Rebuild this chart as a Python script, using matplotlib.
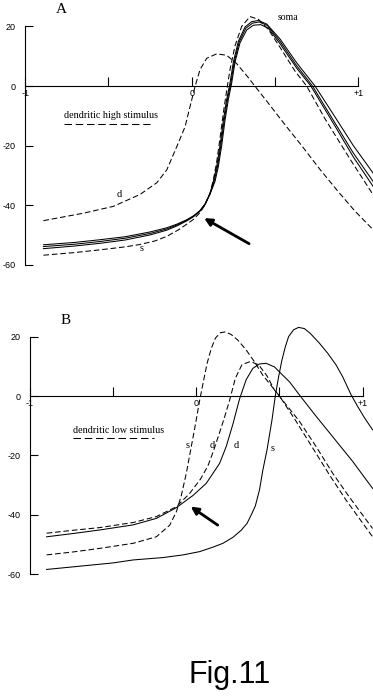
import matplotlib
matplotlib.use("Agg")
import matplotlib.pyplot as plt

# ---- panel A (dendritic high stimulus) ----
a_soma1_x = [-0.89, -0.70, -0.55, -0.40, -0.25, -0.15, -0.09, -0.03, 0.01, 0.05, 0.08, 0.11, 0.13, 0.15, 0.17,
             0.19, 0.21, 0.23, 0.25, 0.28, 0.32, 0.36, 0.40, 0.45, 0.53, 0.63, 0.74, 0.85, 0.97, 1.09]
a_soma1_v = [-53.3, -52.5, -51.6, -50.6, -49.0, -47.6, -46.4, -44.9, -43.6, -41.8, -39.6, -36.0, -32.0, -27.0, -20.0,
             -11.5, -4.5, 1.0, 8.0, 15.0, 19.8, 21.6, 22.0, 20.8, 15.8, 7.8, 0.0, -9.5, -20.0, -29.3]
a_soma2_x = [-0.89, -0.70, -0.55, -0.40, -0.25, -0.15, -0.09, -0.03, 0.01, 0.05, 0.08, 0.11, 0.135, 0.155, 0.175,
             0.195, 0.215, 0.235, 0.255, 0.285, 0.325, 0.365, 0.405, 0.455, 0.53, 0.63, 0.725, 0.85, 0.97, 1.09]
a_soma2_v = [-53.9, -53.1, -52.2, -51.1, -49.5, -48.0, -46.7, -45.1, -43.8, -41.9, -39.7, -36.2, -32.0, -27.0, -20.0,
             -11.5, -4.5, 1.0, 8.0, 14.8, 19.4, 21.1, 21.5, 20.3, 15.0, 6.8, 0.0, -11.5, -22.5, -32.1]
a_soma3_x = [-0.89, -0.70, -0.55, -0.40, -0.25, -0.15, -0.09, -0.03, 0.01, 0.05, 0.08, 0.11, 0.14, 0.16, 0.18,
             0.20, 0.22, 0.24, 0.26, 0.29, 0.33, 0.37, 0.415, 0.46, 0.53, 0.63, 0.715, 0.85, 0.97, 1.09]
a_soma3_v = [-54.6, -53.7, -52.8, -51.7, -50.0, -48.4, -47.0, -45.3, -43.9, -42.0, -39.8, -36.3, -32.0, -27.0, -20.0,
             -11.5, -4.5, 1.0, 8.0, 14.5, 18.8, 20.4, 20.6, 19.4, 14.2, 6.0, 0.0, -12.5, -23.8, -33.8]
a_s_x = [-0.89, -0.70, -0.55, -0.40, -0.31, -0.22, -0.15, -0.08, -0.03, 0.01, 0.05, 0.08, 0.11, 0.13, 0.15,
         0.17, 0.19, 0.21, 0.23, 0.26, 0.30, 0.35, 0.40, 0.46, 0.53, 0.62, 0.69, 0.80, 0.95, 1.09]
a_s_v = [-56.8, -55.9, -55.0, -54.0, -53.2, -52.0, -50.5, -48.3, -46.4, -44.8, -42.5, -39.9, -36.0, -31.5, -25.5,
         -17.5, -9.0, -1.5, 5.5, 13.5, 20.0, 23.3, 22.4, 19.0, 13.0, 5.0, 0.0, -11.0, -24.5, -36.6]
a_d_x = [-0.89, -0.65, -0.47, -0.31, -0.21, -0.15, -0.09, -0.04, -0.01, 0.02, 0.05, 0.09, 0.15, 0.21, 0.27,
         0.33, 0.39, 0.47, 0.56, 0.66, 0.77, 0.88, 0.98, 1.09]
a_d_v = [-45.2, -42.7, -40.4, -36.4, -32.5, -28.2, -20.4, -13.7, -6.9, -0.2, 5.5, 9.3, 10.8, 10.3, 7.5,
         3.5, -0.8, -6.5, -13.0, -20.0, -28.0, -35.5, -42.0, -48.3]

# ---- panel B (dendritic low stimulus) ----
b_s_dash_x = [-0.90, -0.74, -0.58, -0.38, -0.24, -0.16, -0.12, -0.09, -0.06, -0.03, -0.005, 0.02, 0.045, 0.065,
              0.09, 0.115, 0.145, 0.175, 0.21, 0.25, 0.30, 0.35, 0.40, 0.45, 0.50, 0.60, 0.70, 0.80, 0.90, 1.06]
b_s_dash_v = [-53.5, -52.5, -51.3, -49.6, -47.4, -43.5, -39.0, -33.5, -26.0, -17.0, -9.5, -1.5, 5.5, 11.0,
              16.0, 19.5, 21.3, 21.6, 20.7, 18.8, 15.5, 11.5, 7.0, 3.5, 0.0, -8.5, -17.5, -26.5, -35.0, -47.4]
b_d_dash_x = [-0.90, -0.74, -0.58, -0.38, -0.24, -0.12, -0.04, 0.025, 0.07, 0.10, 0.13, 0.165, 0.20, 0.235,
              0.275, 0.325, 0.375, 0.425, 0.47, 0.51, 0.62, 0.72, 0.82, 0.92, 1.06]
b_d_dash_v = [-46.2, -45.2, -44.3, -42.6, -40.6, -37.3, -32.8, -28.0, -23.5, -19.0, -14.0, -8.0, -1.5, 6.0,
              10.6, 11.6, 10.5, 6.8, 2.0, -0.8, -8.5, -17.0, -26.0, -34.0, -44.6]
b_d_sol_x = [-0.90, -0.74, -0.58, -0.38, -0.24, -0.12, -0.02, 0.06, 0.14, 0.18, 0.22, 0.26, 0.30, 0.34, 0.38,
             0.42, 0.47, 0.52, 0.56, 0.625, 0.72, 0.82, 0.94, 1.06]
b_d_sol_v = [-47.4, -46.3, -45.1, -43.4, -41.2, -37.6, -33.5, -29.4, -22.7, -17.0, -9.5, -1.0, 5.5, 9.3, 10.8,
             11.0, 9.8, 7.0, 4.8, 0.0, -6.8, -13.7, -22.0, -31.1]
b_s_sol_x = [-0.90, -0.70, -0.50, -0.38, -0.20, -0.08, 0.02, 0.10, 0.16, 0.22, 0.27, 0.305, 0.335, 0.355, 0.38,
             0.40, 0.425, 0.455, 0.475, 0.495, 0.515, 0.535, 0.555, 0.585, 0.615, 0.65, 0.685, 0.74, 0.79, 0.84,
             0.88, 0.93, 0.97, 1.01, 1.06]
b_s_sol_v = [-58.4, -57.3, -56.2, -55.2, -54.4, -53.5, -52.4, -50.9, -49.6, -47.6, -45.2, -42.9, -39.5, -37.0, -31.6,
             -25.0, -18.2, -8.1, 0.0, 6.5, 12.1, 16.5, 20.0, 22.3, 23.1, 22.7, 21.1, 17.8, 14.4, 10.5,
             6.5, 0.5, -3.5, -7.2, -11.4]

x_ticks = [-1, -0.5, 0, 0.5, 1]
x_labels = ['-1', '', '0', '', '+1']
y_ticks = [-60, -40, -20, 0, 20]
y_labels = ['-60', '-40', '-20', '0', '20']

W, H = 373, 699
fig = plt.figure(figsize=(W / 100, H / 100), dpi=100)
fig.patch.set_facecolor('white')

LW = 0.75
DASH = (5.4, 2.7)
serif = ['Liberation Serif', 'DejaVu Serif']
sans = ['Liberation Sans', 'DejaVu Sans']


def make_axes(top_px, bot_px, x0_px, xscale, y0_px, yscale):
    # axes spans full width; limits from pixel mapping
    ax = fig.add_axes([0, 1 - bot_px / H, 1, (bot_px - top_px) / H])
    ax.set_xlim(-x0_px / xscale, (W - x0_px) / xscale)
    ax.set_ylim((y0_px - bot_px) / yscale, (y0_px - top_px) / yscale)
    ax.patch.set_alpha(0)
    for s in ['top', 'right']:
        ax.spines[s].set_visible(False)
    ax.spines['left'].set_position(('data', -1))
    ax.spines['left'].set_bounds(-60, 20)
    ax.spines['bottom'].set_position(('data', 0))
    ax.spines['bottom'].set_bounds(-1, 1)
    for s in ['left', 'bottom']:
        ax.spines[s].set_linewidth(0.8)
    ax.set_xticks(x_ticks)
    ax.set_xticklabels(x_labels, fontfamily=sans, fontsize=6.5)
    ax.set_yticks(y_ticks)
    ax.set_yticklabels(y_labels, fontfamily=sans, fontsize=6.5)
    ax.tick_params(axis='x', direction='in', length=6.5, width=0.8, pad=2)
    ax.tick_params(axis='y', direction='in', length=5.8, width=0.8, pad=7)
    return ax


# panel A
axA = make_axes(0, 300, 191.7 - 0 * 166.6, 166.6, 86, 2.979)
axA.set_xlim(-191.7 / 166.6, (W - 191.7) / 166.6)
for xs, vs in [(a_soma1_x, a_soma1_v), (a_soma2_x, a_soma2_v), (a_soma3_x, a_soma3_v)]:
    axA.plot(xs, vs, color='black', lw=LW)
axA.plot(a_s_x, a_s_v, color='black', lw=LW, dashes=DASH)
axA.plot(a_d_x, a_d_v, color='black', lw=LW, dashes=DASH)
axA.text(-0.785, 25.8, 'A', fontfamily=serif, fontsize=11, ha='center', va='center')
axA.text(0.578, 23.0, 'soma', fontfamily=serif, fontsize=7, ha='center', va='center')
axA.text(-0.433, -36.4, 'd', fontfamily=serif, fontsize=7.5, ha='center', va='center')
axA.text(-0.298, -54.7, 's', fontfamily=serif, fontsize=7.5, ha='center', va='center')
axA.text(-0.767, -10.7, 'dendritic high stimulus', fontfamily=serif, fontsize=7.3, ha='left', va='baseline')
axA.plot([-0.767, -0.25], [-12.8, -12.8], color='black', lw=LW, dashes=(7.2, 3.6))
axA.annotate('', xy=(0.06, -43.9), xytext=(0.359, -53.4),
             arrowprops=dict(arrowstyle='-|>', color='black', lw=2.0, mutation_scale=11))

# panel B
axB = make_axes(300, 640, 196.3, 166.3, 396 - 300, 2.97)
axB.set_ylim((396 - 640) / 2.97, (396 - 300) / 2.97)
axB.set_xlim(-196.3 / 166.3, (W - 196.3) / 166.3)
axB.plot(b_s_dash_x, b_s_dash_v, color='black', lw=LW, dashes=DASH)
axB.plot(b_d_dash_x, b_d_dash_v, color='black', lw=LW, dashes=DASH)
axB.plot(b_d_sol_x, b_d_sol_v, color='black', lw=LW)
axB.plot(b_s_sol_x, b_s_sol_v, color='black', lw=LW)
axB.text(-0.784, 25.3, 'B', fontfamily=serif, fontsize=11, ha='center', va='center')
axB.text(-0.055, -16.5, 's', fontfamily=serif, fontsize=7.5, ha='center', va='center')
axB.text(0.095, -16.5, 'd', fontfamily=serif, fontsize=7.5, ha='center', va='center')
axB.text(0.243, -16.8, 'd', fontfamily=serif, fontsize=7.5, ha='center', va='center')
axB.text(0.459, -17.8, 's', fontfamily=serif, fontsize=7.5, ha='center', va='center')
axB.text(-0.74, -12.5, 'dendritic low stimulus', fontfamily=serif, fontsize=7.3, ha='left', va='baseline')
axB.plot([-0.74, -0.255], [-14.0, -14.0], color='black', lw=LW, dashes=(7.2, 3.6))
axB.annotate('', xy=(-0.0475, -36.7), xytext=(0.1425, -44.0),
             arrowprops=dict(arrowstyle='-|>', color='black', lw=2.0, mutation_scale=11))

fig.text(230 / W, 1 - 683 / H, 'Fig.11', fontfamily=sans, fontsize=22, ha='center', va='baseline')

fig.savefig('out.png', dpi=100, facecolor='white')
